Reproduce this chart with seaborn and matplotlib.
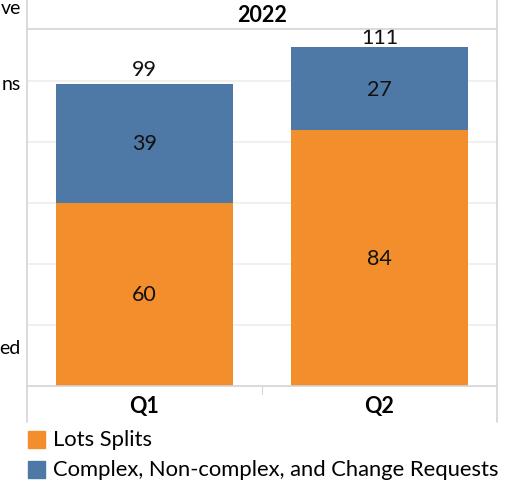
import matplotlib
matplotlib.use("Agg")
import matplotlib.pyplot as plt
from matplotlib.lines import Line2D
import seaborn as sns
import pandas as pd

quarters = ["Q1", "Q2"]
lots_splits = [60, 84]
complex_requests = [39, 27]
year_label = "2022"
series_names = ["Lots Splits", "Complex, Non-complex, and Change Requests"]
left_fragments = ["ve", "ns", "ed"]

ORANGE = "#F28E2B"
BLUE = "#4E79A7"
GRID = "#EDEDED"
BORDER = "#D4D4D4"

sns.set_theme(style="white")
plt.rcParams["font.family"] = ["Lato", "DejaVu Sans"]

W, H = 514, 485
fig = plt.figure(figsize=(W / 100, H / 100), dpi=100)

def fx(px):
    return px / W

def fy(py):
    return 1 - py / H

left, right, top, bottom = 27, 497, 30, 387
ax = fig.add_axes([fx(left), fy(bottom), fx(right - left), (bottom - top) / H])

totals = [a + b for a, b in zip(lots_splits, complex_requests)]
df = pd.DataFrame({"Quarter": quarters, "Lots": lots_splits,
                   "Complex": complex_requests, "Total": totals})

YMAX = 117
for v in [20, 40, 60, 80, 100]:
    ax.axhline(v, color=GRID, lw=1.2, zorder=0)

sns.barplot(data=df, x="Quarter", y="Total", color=BLUE, width=0.75,
            saturation=1, linewidth=0, ax=ax, zorder=2)
sns.barplot(data=df, x="Quarter", y="Lots", color=ORANGE, width=0.75,
            saturation=1, linewidth=0, ax=ax, zorder=3)

ax.set_ylim(0, YMAX)
ax.set_xlim(-0.5, 1.5)
ax.set_xlabel("")
ax.set_ylabel("")
ax.set_xticks([])
ax.set_yticks([])
for s in ax.spines.values():
    s.set_visible(False)

fs = 15.5
tc = "#111111"
for i in range(len(quarters)):
    ax.text(i, lots_splits[i] / 2, str(lots_splits[i]), ha="center", va="center",
            fontsize=fs, color=tc, zorder=5)
    ax.text(i, lots_splits[i] + complex_requests[i] / 2, str(complex_requests[i]),
            ha="center", va="center", fontsize=fs, color=tc, zorder=5)
    ax.text(i, min(totals[i] + 5, 114.3), str(totals[i]), ha="center", va="center",
            fontsize=fs, color=tc, zorder=5, clip_on=False)

# frame lines
fig.add_artist(Line2D([fx(left), fx(left)], [fy(0), fy(423)], color=BORDER, lw=1.2))
fig.add_artist(Line2D([fx(right), fx(right)], [fy(0), fy(423)], color=BORDER, lw=1.2))
fig.add_artist(Line2D([fx(left), fx(right)], [fy(top), fy(top)], color=BORDER, lw=1.2))
fig.add_artist(Line2D([fx(left), fx(right)], [fy(bottom), fy(bottom)], color=BORDER, lw=1.2))
fig.add_artist(Line2D([fx(262), fx(262)], [fy(bottom), fy(395)], color=BORDER, lw=0.8))

# header and category labels
fig.text(fx(262), fy(16), year_label, ha="center", va="center", fontsize=fs,
         fontweight="bold", color="black")
for i, q in enumerate(quarters):
    xc = left + (right - left) * (i + 0.5) / len(quarters)
    fig.text(fx(xc), fy(407), q, ha="center", va="center", fontsize=fs,
             fontweight="bold", color="black")

# fragments of labels at the left edge
for txt, yy in zip(left_fragments, [8, 84, 348]):
    fig.text(fx(21), fy(yy), txt, ha="right", va="center", fontsize=14, color="black")

# legend
for j, (name, col) in enumerate(zip(series_names, [ORANGE, BLUE])):
    yc = 440 + j * 30
    fig.patches.append(plt.Rectangle((fx(28), fy(yc + 8.5)), 17 / W, 17 / H,
                                     transform=fig.transFigure, color=col))
    fig.text(fx(53), fy(yc), name, ha="left", va="center", fontsize=15.8, color="black")

fig.savefig("out.png", dpi=100)
